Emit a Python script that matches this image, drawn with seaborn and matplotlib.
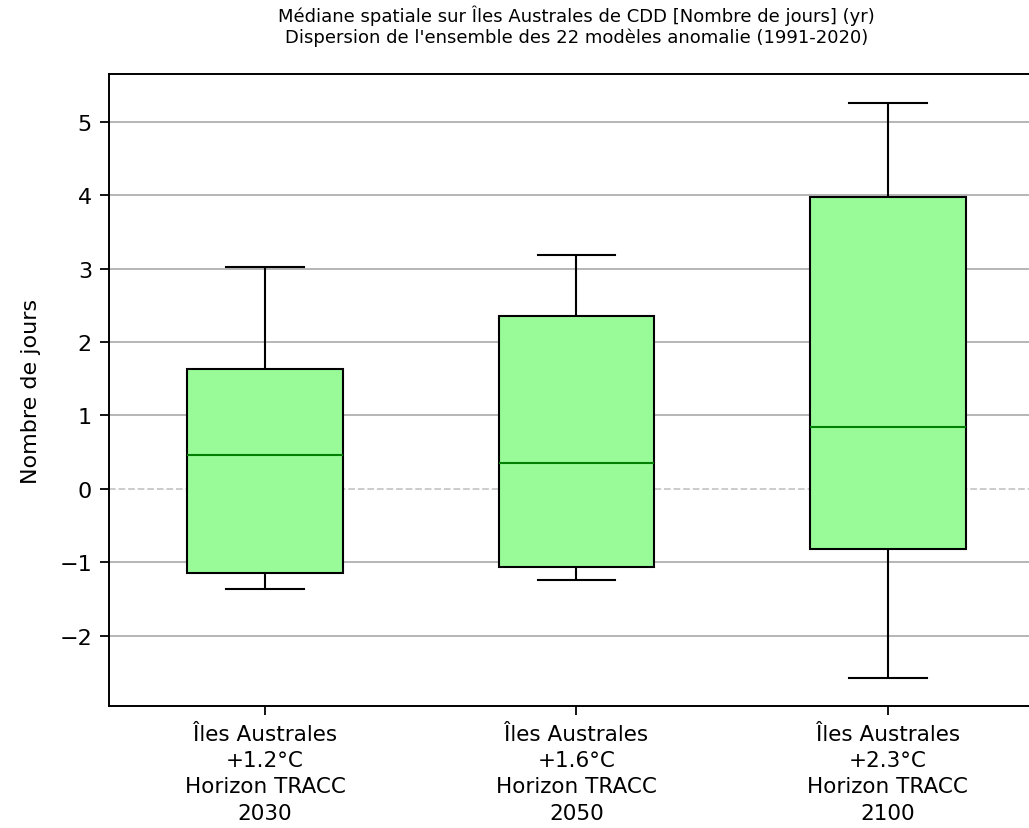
import numpy as np
import pandas as pd
import matplotlib
matplotlib.use("Agg")
import matplotlib.pyplot as plt
import seaborn as sns

# Five-number summaries (whisker low, Q1, median, Q3, whisker high) per horizon
horizons = ["Îles Australes\n+1.2°C\nHorizon TRACC\n2030",
            "Îles Australes\n+1.6°C\nHorizon TRACC\n2050",
            "Îles Australes\n+2.3°C\nHorizon TRACC\n2100"]
h2030 = [-1.36, -1.15, 0.46, 1.64, 3.02]
h2050 = [-1.24, -1.07, 0.35, 2.36, 3.18]
h2100 = [-2.57, -0.82, 0.85, 3.98, 5.26]

title = ("Médiane spatiale sur Îles Australes de CDD [Nombre de jours] (yr)\n"
         "Dispersion de l'ensemble des 22 modèles anomalie (1991-2020)")
ylabel = "Nombre de jours"

df = pd.DataFrame({
    "horizon": np.repeat(horizons, 5),
    "value": np.concatenate([h2030, h2050, h2100]),
})

fig = plt.figure(figsize=(10.29, 8.29), dpi=100)
ax = fig.add_axes([0.1062, 0.1468, 0.908, 0.7627])

sns.boxplot(data=df, x="horizon", y="value", order=horizons, ax=ax,
            width=0.5, whis=(0, 100), color="palegreen", saturation=1,
            linecolor="black", linewidth=1.5, fliersize=0,
            medianprops=dict(color="green", linewidth=1.5),
            boxprops=dict(facecolor="palegreen", edgecolor="black"),
            whiskerprops=dict(color="black"), capprops=dict(color="black"))

ax.set_axisbelow(True)
ax.yaxis.grid(True, color="#b0b0b0", linewidth=1.3)
ax.xaxis.grid(False)
# zero reference: mask the solid gridline, then draw it dashed
ax.axhline(0, color="white", linewidth=2.5, zorder=0.6)
ax.axhline(0, color="#c8c8c8", linestyle="--", linewidth=1.3, zorder=0.7)
ax.set_xlim(-0.5, 2.5)

for s in ax.spines.values():
    s.set_linewidth(1.4)

ax.set_title(title, fontsize=13, pad=23)
ax.set_ylabel(ylabel, fontsize=16, labelpad=13)
ax.set_xlabel("")
ax.tick_params(axis="both", length=6.5, width=1.3, pad=6)
ax.tick_params(axis="y", labelsize=16)
ax.tick_params(axis="x", labelsize=15.5)
for lab in ax.get_xticklabels():
    lab.set_linespacing(1.4)

fig.savefig("out.png", dpi=100)
